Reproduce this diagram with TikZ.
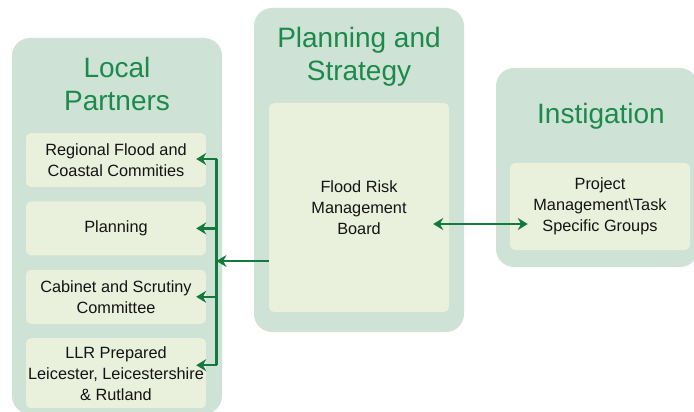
\documentclass[tikz,border=0pt]{standalone}
\usepackage{fontspec}
\setmainfont{Liberation Sans}
\usepackage{tikz}
\usetikzlibrary{positioning,arrows.meta}

\definecolor{panelgreen}{HTML}{CFE2D6}
\definecolor{boxgreen}{HTML}{E9F0DB}
\definecolor{titlegreen}{HTML}{1B8A4B}
\definecolor{arrowgreen}{HTML}{13793D}

\tikzset{
  panel/.style={fill=panelgreen,rounded corners=18pt,inner sep=0pt},
  inbox/.style={fill=boxgreen,rounded corners=5pt,minimum width=180pt,inner sep=0pt,
    align=center,text=black!92,font=\fontsize{16.3}{21}\selectfont},
  title/.style={text=titlegreen,align=center,font=\fontsize{28}{33}\selectfont},
  arr/.style={arrowgreen,line width=2.2pt,-{Stealth[length=10pt,width=12pt]}},
  dblarr/.style={arrowgreen,line width=2.2pt,{Stealth[length=10pt,width=12pt]}-{Stealth[length=10pt,width=12pt]}},
}

\begin{document}
\begin{tikzpicture}[x=1pt,y=-1pt]
\useasboundingbox (0,0) rectangle (694,412);

\node[panel,minimum width=210pt,minimum height=376pt] (lp) at (117,226) {};
\node[panel,minimum width=210pt,minimum height=324pt] (ps) at (359,170) {};
\node[panel,minimum width=202pt,minimum height=199pt] (ins) at (597,167.5) {};

\node[title] (lptitle) at (117,84) {Local\\Partners};
\node[title] (pstitle) at (359,57) {Planning and\\Strategy};
\node[title] (institle) at (601,116) {Instigation};

\node[inbox,minimum height=54pt] (rfc) at (116,160) {Regional Flood and\\Coastal Commities};
\node[inbox,minimum height=54pt,below=14pt of rfc] (plan) {Planning};
\node[inbox,minimum height=54pt,below=14pt of plan] (cab) {Cabinet and Scrutiny\\Committee};
\node[inbox,minimum height=70pt,below=14pt of cab] (llr) {LLR Prepared\\Leicester, Leicestershire\\\& Rutland};

\node[inbox,minimum height=209pt] (frmb) at (359,207.5) {Flood Risk\\Management\\Board};
\node[inbox,minimum height=87pt] (pmt) at (600,206.5) {Project\\Management\textbackslash Task\\Specific Groups};

\coordinate (hub) at (216.5,261);
\coordinate (rfcin) at ([yshift=1pt]rfc.east);
\coordinate (planin) at (plan.east);
\coordinate (cabin) at (cab.east);
\coordinate (llrin) at ([yshift=8pt]llr.east);

\draw[arr] (frmb.west |- hub) -- (hub);
\foreach \b in {rfcin,planin,cabin,llrin}
  \draw[arr] (hub |- \b) -- ([xshift=-10pt]\b);
\draw[arrowgreen,line width=2.2pt] (hub |- rfcin) -- (hub |- llrin);

\draw[dblarr] ([xshift=-16pt,yshift=-16.5pt]frmb.east) -- ([xshift=18pt,yshift=-17.5pt]pmt.west);
\end{tikzpicture}
\end{document}
